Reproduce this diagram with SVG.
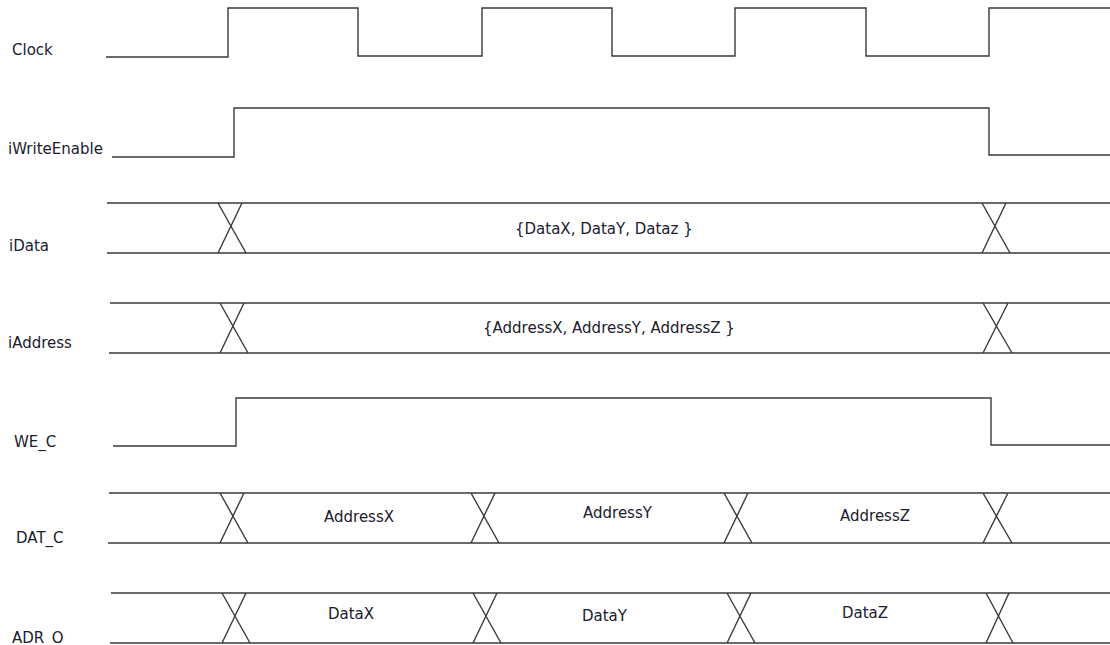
<svg xmlns="http://www.w3.org/2000/svg" width="1110" height="645" viewBox="0 0 1110 645">
<style>
.w{fill:none;stroke:#3a3a3a;stroke-width:1.4;stroke-linejoin:miter}
.t{font-family:"DejaVu Sans",Verdana,sans-serif;font-size:15px;fill:#20202e}
</style>
<rect width="1110" height="645" fill="#fff"/>
<g id="clock">
<text class="t" x="12" y="55">Clock</text>
<path class="w" d="M106,57 H228 V8 H358 V56 H482 V8 H612 V56 H735 V8 H866 V56 H989 V8 H1110"/>
</g>
<g id="iWriteEnable">
<text class="t" x="8" y="154">iWriteEnable</text>
<path class="w" d="M112,157 H234 V108 H989 V155 H1110"/>
</g>
<g id="iData">
<text class="t" x="9" y="251">iData</text>
<path class="w" d="M107,203 H1110 M107,253 H1110 M218,203 L246,253 M242,203 L218,253 M982,203 L1010,253 M1006,203 L982,253"/>
<text class="t" x="515" y="234">{DataX, DataY, Dataz }</text>
</g>
<g id="iAddress">
<text class="t" x="8" y="348">iAddress</text>
<path class="w" d="M110,303 H1110 M109,353 H1110 M220,303 L248,353 M244,303 L220,353 M983,303 L1012,353 M1008,303 L983,353"/>
<text class="t" x="483" y="333">{AddressX, AddressY, AddressZ }</text>
</g>
<g id="WE_C">
<text class="t" x="14" y="447">WE_C</text>
<path class="w" d="M113,446 H236 V398 H991 V445 H1110"/>
</g>
<g id="DAT_C">
<text class="t" x="16" y="543">DAT_C</text>
<path class="w" d="M109,493 H1110 M108,543 H1110 M220,493 L248,543 M244,493 L220,543 M471,493 L499,543 M495,493 L471,543 M724,493 L752,543 M748,493 L724,543 M983,493 L1012,543 M1008,493 L983,543"/>
<text class="t" x="324" y="522">AddressX</text>
<text class="t" x="583" y="518">AddressY</text>
<text class="t" x="840" y="521">AddressZ</text>
</g>
<g id="ADR_O">
<text class="t" x="12" y="643">ADR_O</text>
<path class="w" d="M111,593 H1110 M110,643 H1110 M222,593 L250,643 M246,593 L222,643 M473,593 L501,643 M497,593 L473,643 M727,593 L755,643 M751,593 L727,643 M986,593 L1013,643 M1009,593 L986,643"/>
<text class="t" x="328" y="619">DataX</text>
<text class="t" x="582" y="621">DataY</text>
<text class="t" x="842" y="618">DataZ</text>
</g>
<g id="connectors"/>
</svg>
